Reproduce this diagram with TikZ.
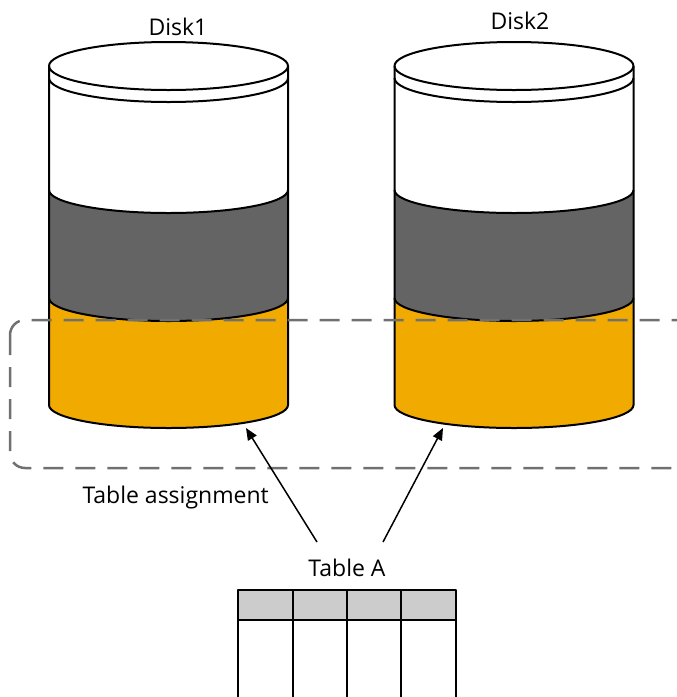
\documentclass[tikz,border=0pt]{standalone}
\usepackage{fontspec}
\setmainfont{Open Sans}
\usetikzlibrary{arrows.meta}
\definecolor{bandgray}{HTML}{646464}
\definecolor{bandorange}{HTML}{F0AA00}
\definecolor{headgray}{HTML}{CCCCCC}
\definecolor{boxgray}{HTML}{707070}
\begin{document}
\begin{tikzpicture}[x=1pt,y=1pt,>={Triangle[length=12pt,width=10pt]}, font=\fontsize{23}{27}\selectfont, line join=round]
\def\rx{119.5} \def\ry{23} % ellipse radii
\def\ytop{66} \def\yrim{78} \def\ya{190} \def\yb{298} \def\yc{405}
\tikzset{disk line/.style={line width=2pt, black},
	group box/.style={draw=boxgray, line width=2.5pt, dash pattern=on 20pt off 12pt, rounded corners=15pt},
	cell/.style={line width=2pt, black}}
\useasboundingbox (0,0) rectangle (677,-697);
\clip (0,0) rectangle (677,-697);
% disks
\foreach \cx/\lbl/\ly/\lx in {168.5/Disk1/35/178, 514/Disk2/29/520}{
	\fill[bandgray] (\cx-\rx,-\ya) arc[start angle=180,end angle=360,x radius=\rx,y radius=\ry]
		-- (\cx+\rx,-\yb) arc[start angle=0,end angle=-180,x radius=\rx,y radius=\ry] -- cycle;
	\fill[bandorange] (\cx-\rx,-\yb) arc[start angle=180,end angle=360,x radius=\rx,y radius=\ry]
		-- (\cx+\rx,-\yc) arc[start angle=0,end angle=-180,x radius=\rx,y radius=\ry] -- cycle;
	\draw[disk line] (\cx,-\ytop) ellipse[x radius=\rx,y radius=24];
	\draw[disk line] (\cx-\rx,-\yrim) arc[start angle=180,end angle=360,x radius=\rx,y radius=24];
	\draw[disk line] (\cx-\rx,-\ya) arc[start angle=180,end angle=360,x radius=\rx,y radius=\ry];
	\draw[disk line] (\cx-\rx,-\yb) arc[start angle=180,end angle=360,x radius=\rx,y radius=\ry];
	\draw[disk line] (\cx-\rx,-\ytop) -- (\cx-\rx,-\yc) arc[start angle=180,end angle=360,x radius=\rx,y radius=\ry] -- (\cx+\rx,-\ytop);
	\node[anchor=base] (\lbl) at (\lx,-\ly) {\lbl};
}
% group box
\draw[group box] (10,-320) rectangle (700,-468);
\node[anchor=base west] (assign) at (79,-503) {Table assignment};
% table
\node[anchor=base] (tableA) at (347,-576) {Table A};
\fill[headgray] (238,-590) rectangle (456,-620);
\draw[cell] (238,-720) -- (238,-590) -- (456,-590) -- (456,-720);
\draw[cell] (238,-620) -- (456,-620);
\foreach \x in {293,347,401} \draw[cell] (\x,-590) -- (\x,-720);
% arrows
\coordinate (tail1) at (317,-542); \coordinate (tip1) at (246,-428);
\coordinate (tail2) at (383,-542); \coordinate (tip2) at (443,-428);
\draw[->, line width=1.5pt] (tail1) -- (tip1);
\draw[->, line width=1.5pt] (tail2) -- (tip2);
\end{tikzpicture}
\end{document}
